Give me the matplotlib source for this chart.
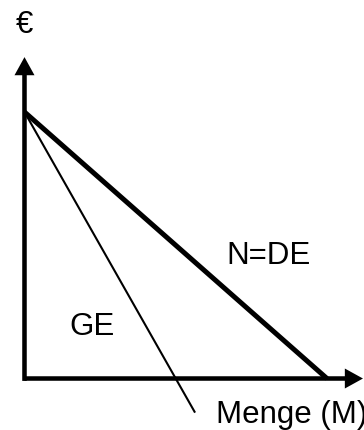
import matplotlib
matplotlib.use("Agg")
import matplotlib.pyplot as plt

plt.rcParams['font.family'] = ['Liberation Sans', 'DejaVu Sans']

# =========================
# 数据 (Preis-Mengen-Diagramm)
# =========================
# Nachfrage N = DE (Durchschnittserlös)
demand_q = [0.0, 11.35]
demand_p = [10.0, 0.0]
# Grenzerlös GE (läuft über die Mengenachse hinaus)
ge_q = [0.0, 6.40]
ge_p = [10.0, -1.28]

# Achsenlängen
x_axis_end = 12.70
y_axis_end = 12.06

labels = {
    "price": "€",
    "qty": "Menge (M)",
    "demand": "N=DE",
    "ge": "GE",
}

# === Figur ===
fig = plt.figure(figsize=(3.64, 4.30), dpi=100)
ax = fig.add_axes([0, 0, 1, 1])
ax.set_xlim(-0.919, 12.739)
ax.set_ylim(-1.932, 14.203)
ax.axis('off')

# Achsen mit Pfeilen
arrow_kw = dict(width=0.17, head_width=0.75, head_length=0.68,
                length_includes_head=True, color='black', lw=0)
ax.arrow(0, -0.09, 0, y_axis_end + 0.09, **arrow_kw)
ax.arrow(0, 0, x_axis_end, 0, **arrow_kw)

# Kurven
ax.plot(demand_q, demand_p, color='black', lw=3.6, solid_capstyle='butt')
ax.plot(ge_q, ge_p, color='black', lw=1.5, solid_capstyle='butt')

# Beschriftungen
fs = 22.5
ax.text(0.0, 12.96, labels["price"], fontsize=fs, ha='center', va='baseline')
ax.text(7.56, 4.30, labels["demand"], fontsize=fs, ha='left', va='baseline')
ax.text(3.38, 1.63, labels["ge"], fontsize=fs, ha='right', va='baseline')
ax.text(7.19, -1.67, labels["qty"], fontsize=fs, ha='left', va='baseline')

fig.savefig("out.png", dpi=100)
